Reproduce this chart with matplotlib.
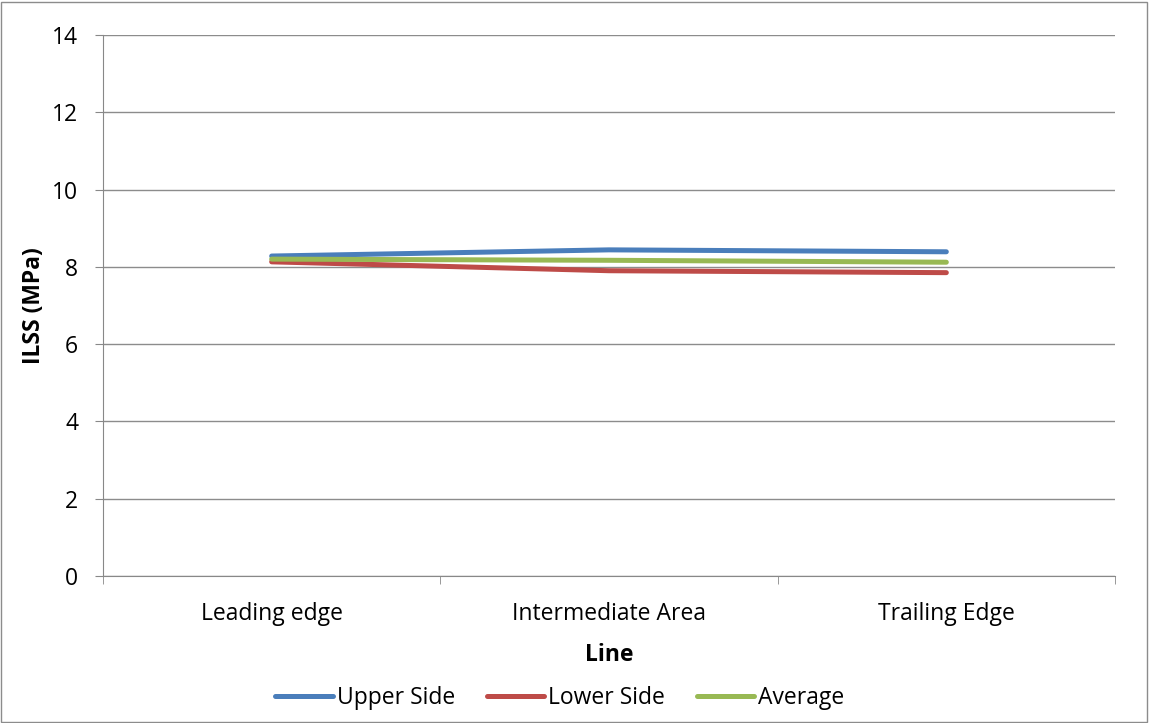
import matplotlib
matplotlib.use("Agg")
import matplotlib.pyplot as plt
from matplotlib.patches import Rectangle

categories = ["Leading edge", "Intermediate Area", "Trailing Edge"]
upper_side = [8.28, 8.44, 8.39]
lower_side = [8.13, 7.90, 7.85]
average = [8.20, 8.17, 8.12]

plt.rcParams['font.family'] = ['Open Sans', 'DejaVu Sans']
FS = 16.5

W, H = 1149, 723
fig = plt.figure(figsize=(W/100, H/100), dpi=100)
ax = fig.add_axes([103/W, 1-576/H, (1115-103)/W, (576-35)/H])

x = list(range(len(categories)))
ax.plot(x, upper_side, color="#4A7EBB", lw=3.6, solid_capstyle="round", label="Upper Side", zorder=3)
ax.plot(x, lower_side, color="#BE4B48", lw=3.6, solid_capstyle="round", label="Lower Side", zorder=3)
ax.plot(x, average, color="#98B954", lw=3.6, solid_capstyle="round", label="Average", zorder=3)

ax.set_xlim(-0.5, 2.5)
ax.set_ylim(0, 14)
ax.set_yticks(range(0, 15, 2))
ax.set_xticks(x)
ax.set_xticklabels(categories)
ax.set_xticks([-0.5, 0.5, 1.5, 2.5], minor=True)
ax.tick_params(axis='x', which='major', length=0, pad=19, labelsize=FS)
ax.tick_params(axis='x', which='minor', length=6, color="#888888")
ax.tick_params(axis='y', length=6, color="#888888", labelsize=FS, pad=12)
ax.grid(axis='y', color="#8C8C8C", lw=1)
ax.set_axisbelow(True)
for s in ['top', 'right']:
    ax.spines[s].set_visible(False)
for s in ['left', 'bottom']:
    ax.spines[s].set_color("#888888")

ax.set_ylabel("ILSS (MPa)", fontsize=FS, fontweight='bold', labelpad=4)
ax.set_xlabel("Line", fontsize=FS, fontweight='bold', labelpad=12)

leg = fig.legend(loc='center', bbox_to_anchor=(560/W, 1-698/H), ncol=3, frameon=False,
                 fontsize=FS, handlelength=2.5, handletextpad=0.17, columnspacing=1.4)

fig.patches.append(Rectangle((1/W, 1/H), (W-3)/W, (H-3)/H, transform=fig.transFigure,
                             fill=False, edgecolor="#8C8C8C", lw=1))

fig.savefig("out.png", dpi=100)
